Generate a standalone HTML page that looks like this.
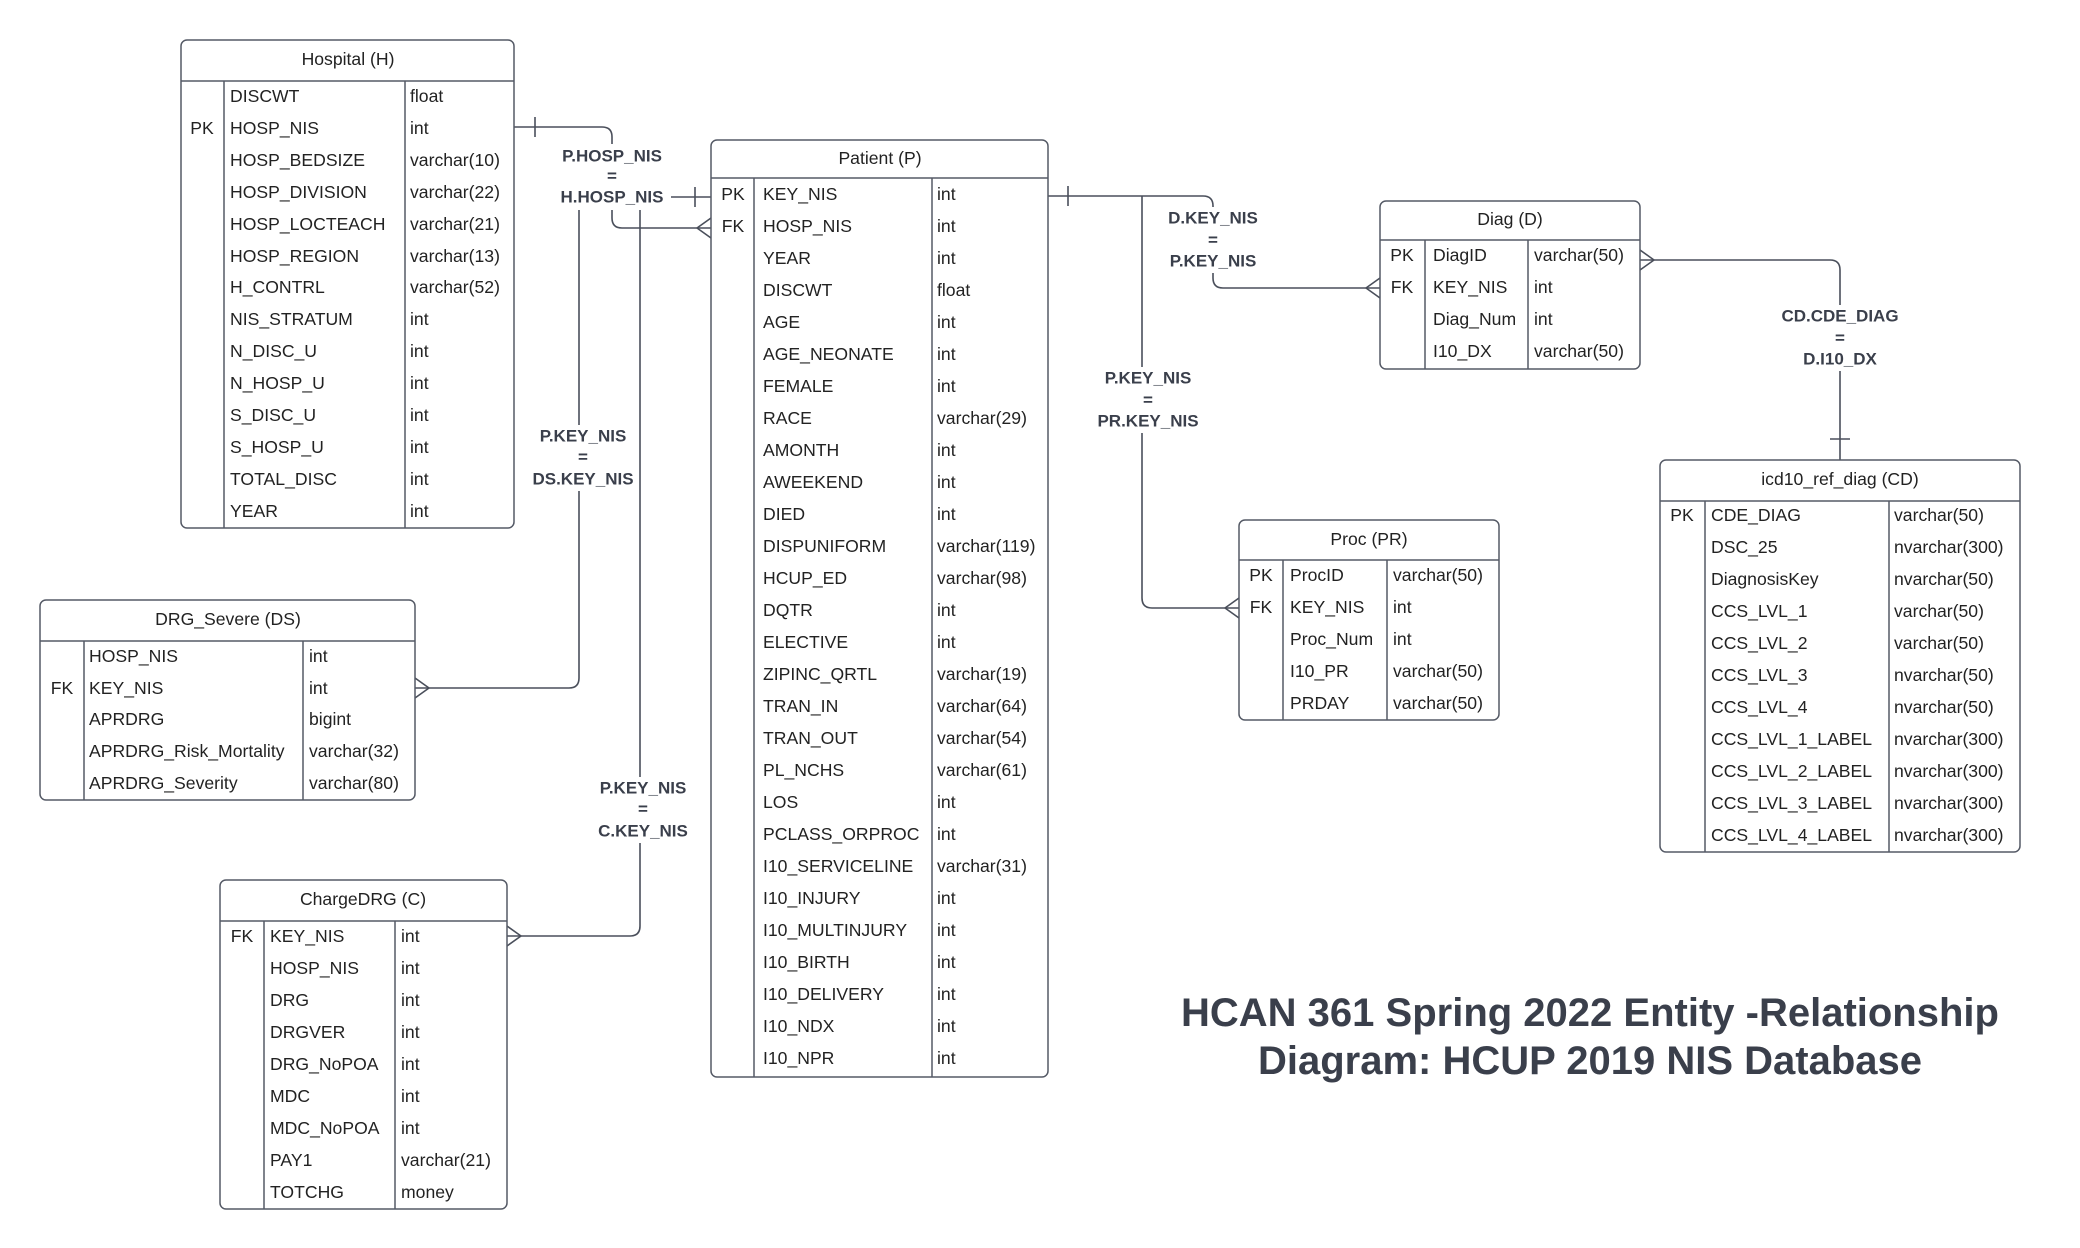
<!DOCTYPE html>
<html><head><meta charset="utf-8"><style>
html,body{margin:0;padding:0;background:#fff;}
svg{display:block;}
text{font-family:"Liberation Sans",Arial,sans-serif;fill:#222;}
.t{font-size:17.6px;dominant-baseline:central;}
.h{font-size:17.6px;dominant-baseline:central;text-anchor:middle;}
.k{font-size:17.6px;dominant-baseline:central;text-anchor:middle;}
.l{font-size:17px;font-weight:bold;fill:#3a3f4b;dominant-baseline:central;text-anchor:middle;}
.ti{font-size:40px;font-weight:bold;fill:#3a3f4b;text-anchor:middle;}
.b{fill:#fff;stroke:#555a66;stroke-width:1.5;}
.d{stroke:#555a66;stroke-width:1.5;fill:none;}
.c{stroke:#4a4f5b;stroke-width:1.6;fill:none;}
</style></head><body>
<svg width="2080" height="1248" viewBox="0 0 2080 1248" xmlns="http://www.w3.org/2000/svg">
<rect width="2080" height="1248" fill="#fff"/>
<!-- connectors -->
<path class="c" d="M514,127 H602 Q612,127 612,137 V218 Q612,228 622,228 H711"/>
<path class="c" d="M535,117 V137"/>
<path class="c" d="M697,228 L711,218 M697,228 L711,238"/>
<path class="c" d="M711,197 H589 Q579,197 579,207 V678 Q579,688 569,688 H415"/>
<path class="c" d="M695,187 V207"/>
<path class="c" d="M429,688 L415,678 M429,688 L415,698"/>
<path class="c" d="M640,197 V926 Q640,936 630,936 H507"/>
<path class="c" d="M521,936 L507,926 M521,936 L507,946"/>
<path class="c" d="M1048,196 H1203 Q1213,196 1213,206 V278 Q1213,288 1223,288 H1380"/>
<path class="c" d="M1068,186 V206"/>
<path class="c" d="M1366,288 L1380,278 M1366,288 L1380,298"/>
<path class="c" d="M1142,196 V598 Q1142,608 1152,608 H1239"/>
<path class="c" d="M1225,608 L1239,598 M1225,608 L1239,618"/>
<path class="c" d="M1640,260 H1830 Q1840,260 1840,270 V460"/>
<path class="c" d="M1654,260 L1640,250 M1654,260 L1640,270"/>
<path class="c" d="M1830,439 H1850"/>
<!-- labels -->
<rect x="555" y="144" width="116" height="66" fill="#fff"/>
<text class="l" x="612" y="156">P.HOSP_NIS</text><text class="l" x="612" y="176">=</text><text class="l" x="612" y="197">H.HOSP_NIS</text>
<rect x="530" y="425" width="106" height="66" fill="#fff"/>
<text class="l" x="583" y="436">P.KEY_NIS</text><text class="l" x="583" y="457">=</text><text class="l" x="583" y="479">DS.KEY_NIS</text>
<rect x="592" y="777" width="104" height="66" fill="#fff"/>
<text class="l" x="643" y="788">P.KEY_NIS</text><text class="l" x="643" y="809">=</text><text class="l" x="643" y="831">C.KEY_NIS</text>
<rect x="1165" y="207" width="96" height="66" fill="#fff"/>
<text class="l" x="1213" y="218">D.KEY_NIS</text><text class="l" x="1213" y="240">=</text><text class="l" x="1213" y="261">P.KEY_NIS</text>
<rect x="1088" y="367" width="108" height="66" fill="#fff"/>
<text class="l" x="1148" y="378">P.KEY_NIS</text><text class="l" x="1148" y="400">=</text><text class="l" x="1148" y="421">PR.KEY_NIS</text>
<rect x="1775" y="305" width="130" height="66" fill="#fff"/>
<text class="l" x="1840" y="316">CD.CDE_DIAG</text><text class="l" x="1840" y="338">=</text><text class="l" x="1840" y="359">D.I10_DX</text>

<!-- Hospital -->
<rect class="b" x="181" y="40" width="333" height="488" rx="6"/>
<path class="d" d="M181,81 H514 M224,81 V528 M405,81 V528"/>
<text class="h" x="348" y="59">Hospital (H)</text>
<g>
<text class="t" x="230" y="96">DISCWT</text><text class="t" x="410" y="96">float</text>
<text class="k" x="202" y="128">PK</text><text class="t" x="230" y="128">HOSP_NIS</text><text class="t" x="410" y="128">int</text>
<text class="t" x="230" y="160">HOSP_BEDSIZE</text><text class="t" x="410" y="160">varchar(10)</text>
<text class="t" x="230" y="192">HOSP_DIVISION</text><text class="t" x="410" y="192">varchar(22)</text>
<text class="t" x="230" y="224">HOSP_LOCTEACH</text><text class="t" x="410" y="224">varchar(21)</text>
<text class="t" x="230" y="256">HOSP_REGION</text><text class="t" x="410" y="256">varchar(13)</text>
<text class="t" x="230" y="287">H_CONTRL</text><text class="t" x="410" y="287">varchar(52)</text>
<text class="t" x="230" y="319">NIS_STRATUM</text><text class="t" x="410" y="319">int</text>
<text class="t" x="230" y="351">N_DISC_U</text><text class="t" x="410" y="351">int</text>
<text class="t" x="230" y="383">N_HOSP_U</text><text class="t" x="410" y="383">int</text>
<text class="t" x="230" y="415">S_DISC_U</text><text class="t" x="410" y="415">int</text>
<text class="t" x="230" y="447">S_HOSP_U</text><text class="t" x="410" y="447">int</text>
<text class="t" x="230" y="479">TOTAL_DISC</text><text class="t" x="410" y="479">int</text>
<text class="t" x="230" y="511">YEAR</text><text class="t" x="410" y="511">int</text>
</g>

<!-- Patient -->
<rect class="b" x="711" y="140" width="337" height="937" rx="6"/>
<path class="d" d="M711,178 H1048 M754,178 V1077 M932,178 V1077"/>
<text class="h" x="880" y="158">Patient (P)</text>
<g>
<text class="k" x="733" y="194">PK</text><text class="t" x="763" y="194">KEY_NIS</text><text class="t" x="937" y="194">int</text>
<text class="k" x="733" y="226">FK</text><text class="t" x="763" y="226">HOSP_NIS</text><text class="t" x="937" y="226">int</text>
<text class="t" x="763" y="258">YEAR</text><text class="t" x="937" y="258">int</text>
<text class="t" x="763" y="290">DISCWT</text><text class="t" x="937" y="290">float</text>
<text class="t" x="763" y="322">AGE</text><text class="t" x="937" y="322">int</text>
<text class="t" x="763" y="354">AGE_NEONATE</text><text class="t" x="937" y="354">int</text>
<text class="t" x="763" y="386">FEMALE</text><text class="t" x="937" y="386">int</text>
<text class="t" x="763" y="418">RACE</text><text class="t" x="937" y="418">varchar(29)</text>
<text class="t" x="763" y="450">AMONTH</text><text class="t" x="937" y="450">int</text>
<text class="t" x="763" y="482">AWEEKEND</text><text class="t" x="937" y="482">int</text>
<text class="t" x="763" y="514">DIED</text><text class="t" x="937" y="514">int</text>
<text class="t" x="763" y="546">DISPUNIFORM</text><text class="t" x="937" y="546">varchar(119)</text>
<text class="t" x="763" y="578">HCUP_ED</text><text class="t" x="937" y="578">varchar(98)</text>
<text class="t" x="763" y="610">DQTR</text><text class="t" x="937" y="610">int</text>
<text class="t" x="763" y="642">ELECTIVE</text><text class="t" x="937" y="642">int</text>
<text class="t" x="763" y="674">ZIPINC_QRTL</text><text class="t" x="937" y="674">varchar(19)</text>
<text class="t" x="763" y="706">TRAN_IN</text><text class="t" x="937" y="706">varchar(64)</text>
<text class="t" x="763" y="738">TRAN_OUT</text><text class="t" x="937" y="738">varchar(54)</text>
<text class="t" x="763" y="770">PL_NCHS</text><text class="t" x="937" y="770">varchar(61)</text>
<text class="t" x="763" y="802">LOS</text><text class="t" x="937" y="802">int</text>
<text class="t" x="763" y="834">PCLASS_ORPROC</text><text class="t" x="937" y="834">int</text>
<text class="t" x="763" y="866">I10_SERVICELINE</text><text class="t" x="937" y="866">varchar(31)</text>
<text class="t" x="763" y="898">I10_INJURY</text><text class="t" x="937" y="898">int</text>
<text class="t" x="763" y="930">I10_MULTINJURY</text><text class="t" x="937" y="930">int</text>
<text class="t" x="763" y="962">I10_BIRTH</text><text class="t" x="937" y="962">int</text>
<text class="t" x="763" y="994">I10_DELIVERY</text><text class="t" x="937" y="994">int</text>
<text class="t" x="763" y="1026">I10_NDX</text><text class="t" x="937" y="1026">int</text>
<text class="t" x="763" y="1058">I10_NPR</text><text class="t" x="937" y="1058">int</text>
</g>

<!-- Diag -->
<rect class="b" x="1380" y="201" width="260" height="168" rx="6"/>
<path class="d" d="M1380,240 H1640 M1425,240 V369 M1528,240 V369"/>
<text class="h" x="1510" y="219">Diag (D)</text>
<text class="k" x="1402" y="255">PK</text><text class="t" x="1433" y="255">DiagID</text><text class="t" x="1534" y="255">varchar(50)</text>
<text class="k" x="1402" y="287">FK</text><text class="t" x="1433" y="287">KEY_NIS</text><text class="t" x="1534" y="287">int</text>
<text class="t" x="1433" y="319">Diag_Num</text><text class="t" x="1534" y="319">int</text>
<text class="t" x="1433" y="351">I10_DX</text><text class="t" x="1534" y="351">varchar(50)</text>

<!-- Proc -->
<rect class="b" x="1239" y="520" width="260" height="200" rx="6"/>
<path class="d" d="M1239,560 H1499 M1283,560 V720 M1387,560 V720"/>
<text class="h" x="1369" y="539">Proc (PR)</text>
<text class="k" x="1261" y="575">PK</text><text class="t" x="1290" y="575">ProcID</text><text class="t" x="1393" y="575">varchar(50)</text>
<text class="k" x="1261" y="607">FK</text><text class="t" x="1290" y="607">KEY_NIS</text><text class="t" x="1393" y="607">int</text>
<text class="t" x="1290" y="639">Proc_Num</text><text class="t" x="1393" y="639">int</text>
<text class="t" x="1290" y="671">I10_PR</text><text class="t" x="1393" y="671">varchar(50)</text>
<text class="t" x="1290" y="703">PRDAY</text><text class="t" x="1393" y="703">varchar(50)</text>

<!-- icd10 -->
<rect class="b" x="1660" y="460" width="360" height="392" rx="6"/>
<path class="d" d="M1660,501 H2020 M1705,501 V852 M1889,501 V852"/>
<text class="h" x="1840" y="479">icd10_ref_diag (CD)</text>
<text class="k" x="1682" y="515">PK</text><text class="t" x="1711" y="515">CDE_DIAG</text><text class="t" x="1894" y="515">varchar(50)</text>
<text class="t" x="1711" y="547">DSC_25</text><text class="t" x="1894" y="547">nvarchar(300)</text>
<text class="t" x="1711" y="579">DiagnosisKey</text><text class="t" x="1894" y="579">nvarchar(50)</text>
<text class="t" x="1711" y="611">CCS_LVL_1</text><text class="t" x="1894" y="611">varchar(50)</text>
<text class="t" x="1711" y="643">CCS_LVL_2</text><text class="t" x="1894" y="643">varchar(50)</text>
<text class="t" x="1711" y="675">CCS_LVL_3</text><text class="t" x="1894" y="675">nvarchar(50)</text>
<text class="t" x="1711" y="707">CCS_LVL_4</text><text class="t" x="1894" y="707">nvarchar(50)</text>
<text class="t" x="1711" y="739">CCS_LVL_1_LABEL</text><text class="t" x="1894" y="739">nvarchar(300)</text>
<text class="t" x="1711" y="771">CCS_LVL_2_LABEL</text><text class="t" x="1894" y="771">nvarchar(300)</text>
<text class="t" x="1711" y="803">CCS_LVL_3_LABEL</text><text class="t" x="1894" y="803">nvarchar(300)</text>
<text class="t" x="1711" y="835">CCS_LVL_4_LABEL</text><text class="t" x="1894" y="835">nvarchar(300)</text>

<!-- DRG_Severe -->
<rect class="b" x="40" y="600" width="375" height="200" rx="6"/>
<path class="d" d="M40,641 H415 M84,641 V800 M303,641 V800"/>
<text class="h" x="228" y="619">DRG_Severe (DS)</text>
<text class="t" x="89" y="656">HOSP_NIS</text><text class="t" x="309" y="656">int</text>
<text class="k" x="62" y="688">FK</text><text class="t" x="89" y="688">KEY_NIS</text><text class="t" x="309" y="688">int</text>
<text class="t" x="89" y="719">APRDRG</text><text class="t" x="309" y="719">bigint</text>
<text class="t" x="89" y="751">APRDRG_Risk_Mortality</text><text class="t" x="309" y="751">varchar(32)</text>
<text class="t" x="89" y="783">APRDRG_Severity</text><text class="t" x="309" y="783">varchar(80)</text>

<!-- ChargeDRG -->
<rect class="b" x="220" y="880" width="287" height="329" rx="6"/>
<path class="d" d="M220,921 H507 M264,921 V1209 M395,921 V1209"/>
<text class="h" x="363" y="899">ChargeDRG (C)</text>
<text class="k" x="242" y="936">FK</text><text class="t" x="270" y="936">KEY_NIS</text><text class="t" x="401" y="936">int</text>
<text class="t" x="270" y="968">HOSP_NIS</text><text class="t" x="401" y="968">int</text>
<text class="t" x="270" y="1000">DRG</text><text class="t" x="401" y="1000">int</text>
<text class="t" x="270" y="1032">DRGVER</text><text class="t" x="401" y="1032">int</text>
<text class="t" x="270" y="1064">DRG_NoPOA</text><text class="t" x="401" y="1064">int</text>
<text class="t" x="270" y="1096">MDC</text><text class="t" x="401" y="1096">int</text>
<text class="t" x="270" y="1128">MDC_NoPOA</text><text class="t" x="401" y="1128">int</text>
<text class="t" x="270" y="1160">PAY1</text><text class="t" x="401" y="1160">varchar(21)</text>
<text class="t" x="270" y="1192">TOTCHG</text><text class="t" x="401" y="1192">money</text>

<!-- Title -->
<text class="ti" x="1590" y="1026">HCAN 361 Spring 2022 Entity -Relationship</text>
<text class="ti" x="1590" y="1074">Diagram: HCUP 2019 NIS Database</text>
</svg>
</body></html>
